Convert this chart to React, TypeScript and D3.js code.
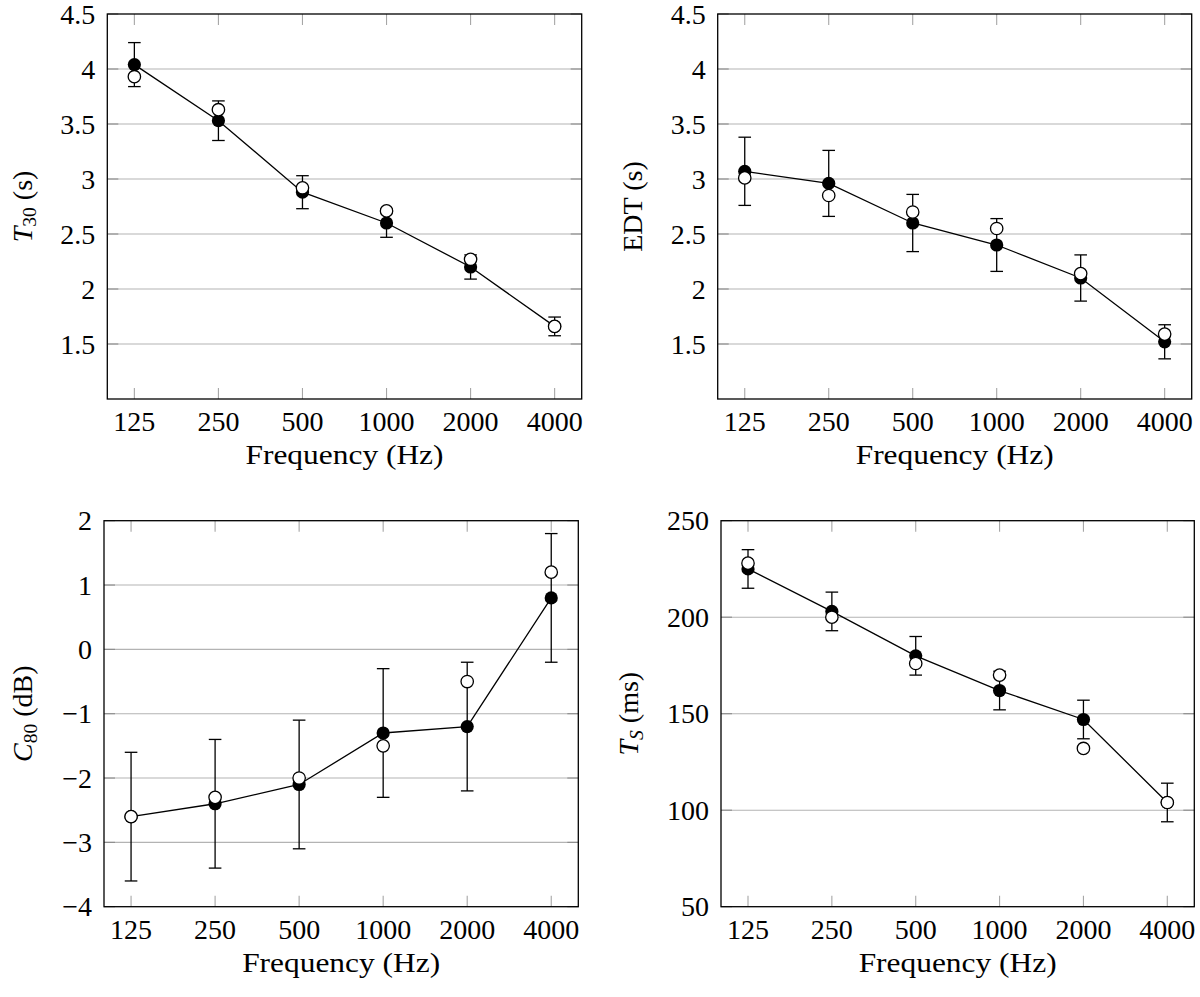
import React from "react";
import * as d3 from "d3";

const freqs = [125, 250, 500, 1000, 2000, 4000];
const freqLabels = ["125", "250", "500", "1000", "2000", "4000"];

const t30Measured = [4.04, 3.53, 2.88, 2.6, 2.2, 1.66];
const t30Err = [0.2, 0.18, 0.15, 0.13, 0.11, 0.085];
const t30Simulated = [3.93, 3.63, 2.92, 2.71, 2.27, 1.66];
const t30Ticks = [1.5, 2, 2.5, 3, 3.5, 4, 4.5];
const t30Grid = [1.5, 2, 2.5, 3, 3.5, 4];

const edtMeasured = [3.07, 2.96, 2.6, 2.4, 2.1, 1.52];
const edtErr = [0.31, 0.3, 0.26, 0.24, 0.21, 0.155];
const edtSimulated = [3.01, 2.85, 2.7, 2.55, 2.14, 1.59];
const edtTicks = [1.5, 2, 2.5, 3, 3.5, 4, 4.5];
const edtGrid = [1.5, 2, 2.5, 3, 3.5, 4];

const c80Measured = [-2.6, -2.4, -2.1, -1.3, -1.2, 0.8];
const c80Err = [1, 1, 1, 1, 1, 1];
const c80Simulated = [-2.6, -2.3, -2.0, -1.5, -0.5, 1.2];
const c80Ticks = [-4, -3, -2, -1, 0, 1, 2];
const c80Grid = [-3, -2, -1, 0, 1];

const tsMeasured = [225, 203, 180, 162, 147, 104];
const tsErr = [10, 10, 10, 10, 10, 10];
const tsSimulated = [228, 200, 176, 170, 132, 104];
const tsTicks = [50, 100, 150, 200, 250];
const tsGrid = [100, 150, 200];

const FONT = "Liberation Serif, Tinos, Times New Roman, DejaVu Serif, serif";
const FS = 28;

type PanelProps = {
  left: number;
  right: number;
  top: number;
  bottom: number;
  yDomain: [number, number];
  ticks: number[];
  grid: number[];
  measured: number[];
  err: number[];
  simulated: number[];
  ylabel: React.ReactNode;
  ylabelX: number;
};

const fmt = (v: number) => (v < 0 ? "\u2212" + String(-v) : String(v));

function Panel(p: PanelProps) {
  const pad = Math.pow(2, 0.322);
  const x = d3
    .scaleLog()
    .base(2)
    .domain([freqs[0] / pad, freqs[freqs.length - 1] * pad])
    .range([p.left, p.right]);
  const y = d3.scaleLinear().domain(p.yDomain).range([p.bottom, p.top]);
  const line = d3
    .line<number>()
    .x((_, i) => x(freqs[i]))
    .y((d) => y(d));
  const tickLen = 11;
  const cap = 6.3;
  const r = 6.2;
  const cy = (p.top + p.bottom) / 2;
  const cx = (p.left + p.right) / 2;
  return (
    <g>
      {p.grid.map((g) => (
        <line key={"g" + g} x1={p.left} x2={p.right} y1={y(g)} y2={y(g)} stroke="#b3b3b3" strokeWidth={1.1} />
      ))}
      {p.ticks.map((g) => (
        <g key={"yt" + g}>
          <line x1={p.left} x2={p.left + tickLen} y1={y(g)} y2={y(g)} stroke="#8c8c8c" strokeWidth={1.1} />
          <line x1={p.right} x2={p.right - tickLen} y1={y(g)} y2={y(g)} stroke="#8c8c8c" strokeWidth={1.1} />
        </g>
      ))}
      {freqs.map((f) => (
        <g key={"xt" + f}>
          <line x1={x(f)} x2={x(f)} y1={p.bottom} y2={p.bottom - tickLen} stroke="#a6a6a6" strokeWidth={1.1} />
          <line x1={x(f)} x2={x(f)} y1={p.top} y2={p.top + tickLen} stroke="#a6a6a6" strokeWidth={1.1} />
        </g>
      ))}
      <rect x={p.left} y={p.top} width={p.right - p.left} height={p.bottom - p.top} fill="none" stroke="#000" strokeWidth={1.3} />
      <path d={line(p.measured) || ""} fill="none" stroke="#000" strokeWidth={1.3} />
      {p.measured.map((m, i) => {
        const xx = x(freqs[i]);
        const y1 = y(m + p.err[i]);
        const y2 = y(m - p.err[i]);
        return (
          <g key={"e" + i} stroke="#000" strokeWidth={1.3}>
            <line x1={xx} x2={xx} y1={y1} y2={y2} />
            <line x1={xx - cap} x2={xx + cap} y1={y1} y2={y1} />
            <line x1={xx - cap} x2={xx + cap} y1={y2} y2={y2} />
          </g>
        );
      })}
      {p.measured.map((m, i) => (
        <circle key={"m" + i} cx={x(freqs[i])} cy={y(m)} r={r + 0.4} fill="#000" />
      ))}
      {p.simulated.map((s, i) => (
        <circle key={"s" + i} cx={x(freqs[i])} cy={y(s)} r={r} fill="#fff" stroke="#000" strokeWidth={1.3} />
      ))}
      {p.ticks.map((t) => (
        <text key={"yl" + t} x={p.left - 12} y={y(t)} dy="0.34em" textAnchor="end" fontFamily={FONT} fontSize={FS}>
          {fmt(t)}
        </text>
      ))}
      {freqs.map((f, i) => (
        <text key={"xl" + f} x={x(f)} y={p.bottom + 32} textAnchor="middle" fontFamily={FONT} fontSize={FS}>
          {freqLabels[i]}
        </text>
      ))}
      <text x={cx} y={p.bottom + 65} textAnchor="middle" fontFamily={FONT} fontSize={FS} textLength={198} lengthAdjust="spacingAndGlyphs">
        Frequency (Hz)
      </text>
      <text
        transform={`translate(${p.ylabelX},${cy}) rotate(-90)`}
        textAnchor="middle"
        fontFamily={FONT}
        fontSize={FS}
      >
        {p.ylabel}
      </text>
    </g>
  );
}

export default function App() {
  const sub = (s: string, italic = false) => (
    <tspan fontSize={FS * 0.7} dy={FS * 0.17} fontStyle={italic ? "italic" : "normal"}>
      {s}
    </tspan>
  );
  return (
    <svg width={1200} height={997} style={{ position: "absolute", left: 0, top: 0, background: "#fff", fontFamily: FONT }}>
      <rect x={0} y={0} width={1200} height={997} fill="#fff" />
      <Panel
        left={107.3}
        right={581.7}
        top={14}
        bottom={399}
        yDomain={[1, 4.5]}
        ticks={t30Ticks}
        grid={t30Grid}
        measured={t30Measured}
        err={t30Err}
        simulated={t30Simulated}
        ylabelX={31.5}
        ylabel={
          <>
            <tspan fontStyle="italic">T</tspan>
            {sub("30")}
            <tspan dy={-FS * 0.17}> (s)</tspan>
          </>
        }
      />
      <Panel
        left={717.7}
        right={1191.7}
        top={14}
        bottom={399}
        yDomain={[1, 4.5]}
        ticks={edtTicks}
        grid={edtGrid}
        measured={edtMeasured}
        err={edtErr}
        simulated={edtSimulated}
        ylabelX={641.5}
        ylabel={<tspan>EDT (s)</tspan>}
      />
      <Panel
        left={104}
        right={578.3}
        top={520.7}
        bottom={906.7}
        yDomain={[-4, 2]}
        ticks={c80Ticks}
        grid={c80Grid}
        measured={c80Measured}
        err={c80Err}
        simulated={c80Simulated}
        ylabelX={32.3}
        ylabel={
          <>
            <tspan fontStyle="italic">C</tspan>
            {sub("80")}
            <tspan dy={-FS * 0.17}> (dB)</tspan>
          </>
        }
      />
      <Panel
        left={721}
        right={1194.3}
        top={520.7}
        bottom={906.7}
        yDomain={[50, 250]}
        ticks={tsTicks}
        grid={tsGrid}
        measured={tsMeasured}
        err={tsErr}
        simulated={tsSimulated}
        ylabelX={638.3}
        ylabel={
          <>
            <tspan fontStyle="italic">T</tspan>
            {sub("S", true)}
            <tspan dy={-FS * 0.17}> (ms)</tspan>
          </>
        }
      />
    </svg>
  );
}
